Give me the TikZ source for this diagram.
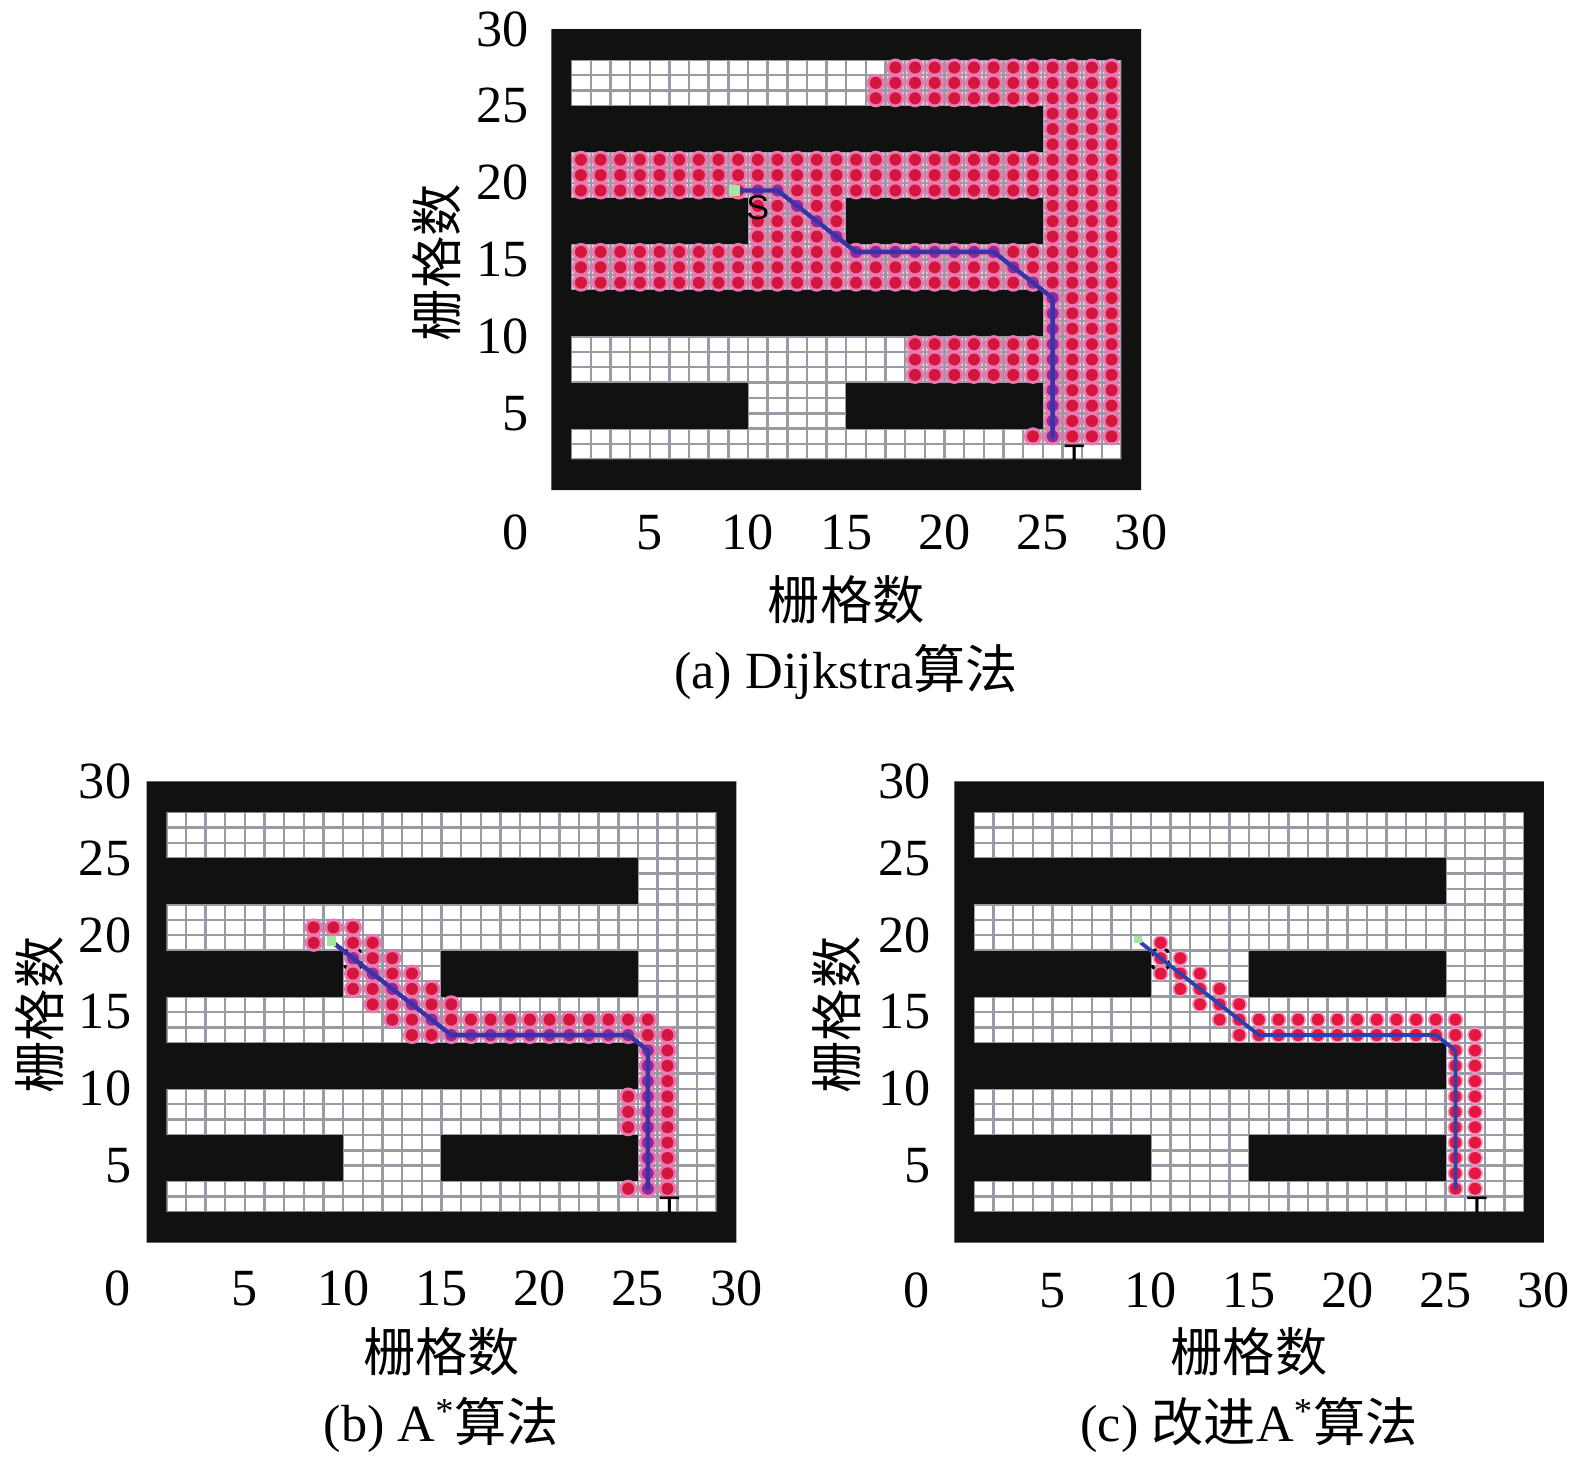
\documentclass[tikz,border=0pt]{standalone}
\usepackage{fontspec}
\setmainfont{Liberation Serif}
\newfontfamily\cjk{Noto Sans CJK SC}
\newfontfamily\sansT{Liberation Sans}
\definecolor{obstc}{HTML}{111111}
\definecolor{gridc}{HTML}{9A9AA4}
\definecolor{pinkbg}{HTML}{F3CCDF}
\definecolor{haloc}{HTML}{EC78B0}
\definecolor{dotc}{HTML}{D2163E}
\definecolor{dotcc}{HTML}{E5173F}
\definecolor{pdotc}{HTML}{8E2C9C}
\definecolor{pathc}{HTML}{3A32A6}
\definecolor{pathcc}{HTML}{2E3FB0}
\definecolor{startc}{HTML}{A4E6A0}
\tikzset{
  mapunit/.style={x=9.783pt,y=7.65pt},
  lbl/.style={font=\fontsize{26}{30}\selectfont, inner sep=0pt},
  gridline/.style={draw=gridc, line width=1.2pt},
  pathline/.style={line width=2.2pt, line join=round, line cap=round},
  markS/.style={font=\sansT\fontsize{17}{17}\selectfont, inner sep=0pt},
  markT/.style={font=\sansT\fontsize{17}{17}\selectfont, inner sep=0pt, anchor=north},
}
\newcommand\mapbase{\fill[white] (1,2) rectangle (29,28);}
\newcommand\mapgrid{%
  \foreach \i in {1,...,29} {\draw[gridline] (\i,2) -- (\i,28);}
  \foreach \j in {2,...,28} {\draw[gridline] (1,\j) -- (29,\j);}
}
\newcommand\mapobst{%
  \fill[obstc,even odd rule] (0,0) rectangle (30,30) (1,2) rectangle (29,28);
  \fill[obstc] (1,22) rectangle (25,25);
  \fill[obstc] (1,16) rectangle (10,19);
  \fill[obstc] (15,16) rectangle (25,19);
  \fill[obstc] (1,10) rectangle (25,13);
  \fill[obstc] (1,4) rectangle (10,7);
  \fill[obstc] (15,4) rectangle (25,7);
}
\newcommand\markTat[1]{%
  \begin{scope}
    \clip (1,2) rectangle (29,28);
    \node[markT] (#1T) at (26.6,2.97) {T};
  \end{scope}
}
\newcommand\dotat[2]{\fill[haloc] (#1+0.5,#2+0.5) circle[radius=4.5pt]; \fill[dotc] (#1+0.5,#2+0.5) circle[radius=3pt];}
\newcommand\pdotat[2]{\fill[haloc] (#1+0.5,#2+0.5) circle[radius=4.5pt]; \fill[pdotc] (#1+0.5,#2+0.5) circle[radius=3pt];}
\newcommand\cdotat[2]{\fill[haloc!80] (#1+0.5,#2+0.5) circle[radius=3.9pt]; \fill[dotcc] (#1+0.5,#2+0.5) circle[radius=3pt];}
\newcommand\axeslabels[6]{%
  \foreach \k in {5,10,...,30} {\node[lbl,anchor=east] (#1y\k) at (#2,\k) {\k};}
  \node[lbl] (#1x0) at (#3,#4) {0};
  \foreach \k in {5,10,...,30} {\node[lbl] (#1x\k) at (\k,#4) {\k};}
  \node[lbl,rotate=90] (#1ylab) at (#5,14.8) {\cjk 栅格数};
  \node[lbl] (#1xlab) at (15,-7.1) {\cjk 栅格数};
  \node[lbl] (#1cap) at (15,-11.85) {#6};
}
\begin{document}
\begin{tikzpicture}
\useasboundingbox (0,0) rectangle (784pt,728pt);
\fill[white] (0,0) rectangle (784pt,728pt);

% ---------------- (a) Dijkstra ----------------
\begin{scope}[shift={(274.5pt,484pt)},mapunit]
  \mapbase
  \fill[pinkbg] (17,25) rectangle (29,28);
  \fill[pinkbg] (16,25) rectangle (17,27);
  \fill[pinkbg] (25,3) rectangle (29,25);
  \fill[pinkbg] (24,3) rectangle (25,4);
  \fill[pinkbg] (1,19) rectangle (25,22);
  \fill[pinkbg] (10,16) rectangle (15,19);
  \fill[pinkbg] (1,13) rectangle (25,16);
  \fill[pinkbg] (18,7) rectangle (25,10);
  \mapgrid
  \mapobst
  \foreach \i in {17,...,28} {\foreach \j in {25,26,27} {\dotat{\i}{\j}}}
  \dotat{16}{25} \dotat{16}{26}
  \foreach \i in {26,...,28} {\foreach \j in {3,...,24} {\dotat{\i}{\j}}}
  \foreach \j in {13,...,24} {\dotat{25}{\j}}
  \foreach \i in {1,...,24} {\foreach \j in {19,20,21} {\dotat{\i}{\j}}}
  \foreach \i in {10,...,14} {\foreach \j in {16,17,18} {\dotat{\i}{\j}}}
  \foreach \i in {1,...,24} {\foreach \j in {13,14,15} {\dotat{\i}{\j}}}
  \foreach \i in {18,...,24} {\foreach \j in {7,8,9} {\dotat{\i}{\j}}}
  \dotat{24}{3}
  \foreach \i/\j in {10/19,11/19,12/18,13/17,14/16,15/15,16/15,17/15,18/15,19/15,20/15,21/15,22/15,23/14,24/13} {\pdotat{\i}{\j}}
  \foreach \j in {3,...,12} {\pdotat{25}{\j}}
  \draw[pathline,pathc] (9.5,19.5) -- (11.5,19.5) -- (15.5,15.5) -- (22.5,15.5) -- (25.5,12.5) -- (25.5,3.5);
  \fill[startc] (9.3,19.5) +(-2.8pt,-2.8pt) rectangle +(2.8pt,2.8pt);
  \node[markS] (aS) at (10.5,18.4) {S};
  \markTat{a}
  \axeslabels{a}{-1.12}{-1.84}{-2.75}{-5.83}{(a) Dijkstra{\cjk 算法}}
\end{scope}

% ---------------- (b) A* ----------------
\begin{scope}[shift={(73pt,109.5pt)},mapunit]
  \mapbase
  \mapgrid
  \node[markS] (bS) at (10.5,18.4) {S};
  \mapobst
  \foreach \i/\j in {8/20,9/20,10/20,8/19,10/19,11/19,11/18,12/18,10/17,12/17,13/17,
     10/16,11/16,13/16,14/16,11/15,12/15,14/15,15/15,12/14,13/14,13/13,14/13,25/13,26/13,
     24/9,24/8,24/7,24/3} {\dotat{\i}{\j}}
  \foreach \i in {15,...,25} {\dotat{\i}{14}}
  \foreach \j in {3,...,12} {\dotat{26}{\j}}
  \foreach \i/\j in {10/18,11/17,12/16,13/15,14/14} {\pdotat{\i}{\j}}
  \foreach \i in {15,...,24} {\pdotat{\i}{13}}
  \foreach \j in {3,...,12} {\pdotat{25}{\j}}
  \draw[pathline,pathc] (9.5,19.5) -- (15.5,13.5) -- (24.5,13.5) -- (25.5,12.5) -- (25.5,3.5);
  \fill[startc] (9.4,19.6) +(-2.4pt,-2.4pt) rectangle +(2.4pt,2.4pt);
  \markTat{b}
  \axeslabels{b}{-0.77}{-1.48}{-3.0}{-5.42}{(b) A\textsuperscript{*}{\cjk 算法}}
\end{scope}

% ---------------- (c) improved A* ----------------
\begin{scope}[shift={(475pt,109.5pt)},mapunit]
  \mapbase
  \mapgrid
  \node[markS] (cS) at (10.5,18.4) {S};
  \mapobst
  \foreach \i/\j in {10/19,11/18,10/17,12/17,11/16,13/16,12/15,14/15,13/14,14/13,25/13,26/13} {\cdotat{\i}{\j}}
  \foreach \i in {15,...,25} {\cdotat{\i}{14}}
  \foreach \j in {3,...,12} {\cdotat{26}{\j}}
  \foreach \i/\j in {10/18,11/17,12/16,13/15,14/14} {\cdotat{\i}{\j}}
  \foreach \i in {15,...,24} {\cdotat{\i}{13}}
  \foreach \j in {3,...,12} {\cdotat{25}{\j}}
  \draw[pathline,pathcc,line width=1.9pt] (9.5,19.5) -- (15.5,13.5) -- (24.5,13.5) -- (25.5,12.5) -- (25.5,3.5);
  \fill[startc] (9.35,19.7) +(-1.8pt,-1.8pt) rectangle +(1.8pt,1.8pt);
  \markTat{c}
  \axeslabels{c}{-1.18}{-1.94}{-3.1}{-5.98}{(c) {\cjk 改进}A\textsuperscript{*}{\cjk 算法}}
\end{scope}
\end{tikzpicture}
\end{document}
